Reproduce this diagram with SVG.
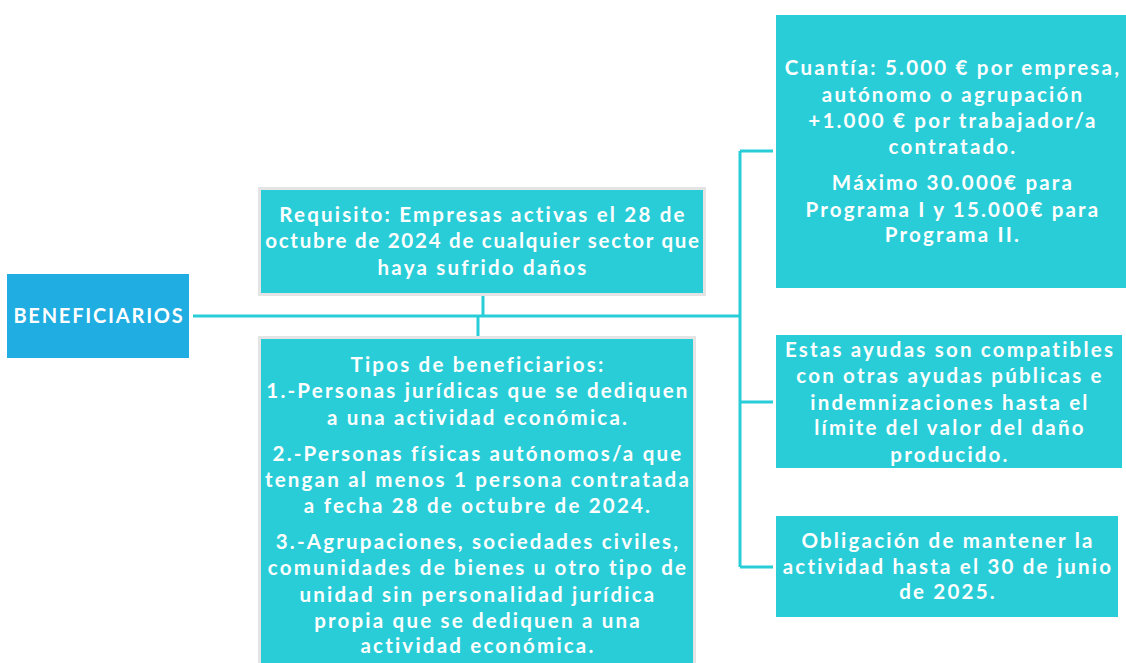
<svg xmlns="http://www.w3.org/2000/svg" width="1126" height="663" viewBox="0 0 1126 663">
<style>
.t{font-family:Lato,"Open Sans","Liberation Sans",sans-serif;font-weight:700;font-size:20.5px;letter-spacing:2.2px;fill:#ffffff;text-anchor:middle}
.box{fill:#29CDD7}
.gbox{fill:#29CDD7;stroke:#E4E4E4;stroke-width:3}
.ln{stroke:#29CDD7;stroke-width:3;fill:none}
</style>
<rect width="1126" height="663" fill="#ffffff"/>
<g id="connectors">
<path class="ln" d="M193 316H740M740 151V567M740 151H773M740 402H773M740 567H773M483 296V316M478 316V336"/>
</g>
<g id="root">
<rect x="7" y="274" width="182" height="84" fill="#1FADE2"/>
<text class="t" x="99" y="323" style="font-size:20px;letter-spacing:1.8px">BENEFICIARIOS</text>
</g>
<g id="requisito">
<rect class="gbox" x="259.5" y="188.5" width="445" height="106"/>
<text class="t" x="483" y="222">Requisito: Empresas activas el 28 de</text>
<text class="t" x="483" y="248" style="letter-spacing:1.75px">octubre de 2024 de cualquier sector que</text>
<text class="t" x="483" y="275">haya sufrido daños</text>
</g>
<g id="tipos">
<rect class="gbox" x="259.5" y="337.5" width="435" height="340"/>
<text class="t" x="478" y="372">Tipos de beneficiarios:</text>
<text class="t" x="478" y="398">1.-Personas jurídicas que se dediquen</text>
<text class="t" x="478" y="425">a una actividad económica.</text>
<text class="t" x="478" y="461">2.-Personas físicas autónomos/a que</text>
<text class="t" x="478" y="487">tengan al menos 1 persona contratada</text>
<text class="t" x="478" y="513">a fecha 28 de octubre de 2024.</text>
<text class="t" x="478" y="549">3.-Agrupaciones, sociedades civiles,</text>
<text class="t" x="478" y="575">comunidades de bienes u otro tipo de</text>
<text class="t" x="478" y="602">unidad sin personalidad jurídica</text>
<text class="t" x="478" y="628">propia que se dediquen a una</text>
<text class="t" x="478" y="653">actividad económica.</text>
</g>
<g id="cuantia">
<rect class="box" x="776" y="15" width="350" height="273"/>
<text class="t" x="953" y="75">Cuantía: 5.000 € por empresa,</text>
<text class="t" x="953" y="102">autónomo o agrupación</text>
<text class="t" x="953" y="128">+1.000 € por trabajador/a</text>
<text class="t" x="953" y="154">contratado.</text>
<text class="t" x="953" y="190">Máximo 30.000€ para</text>
<text class="t" x="953" y="217">Programa I y 15.000€ para</text>
<text class="t" x="953" y="242">Programa II.</text>
</g>
<g id="compatibles">
<rect class="box" x="776" y="335" width="346" height="133"/>
<text class="t" x="950" y="357">Estas ayudas son compatibles</text>
<text class="t" x="950" y="383">con otras ayudas públicas e</text>
<text class="t" x="950" y="410">indemnizaciones hasta el</text>
<text class="t" x="950" y="435">límite del valor del daño</text>
<text class="t" x="950" y="462">producido.</text>
</g>
<g id="obligacion">
<rect class="box" x="776" y="516" width="342" height="101"/>
<text class="t" x="948" y="548">Obligación de mantener la</text>
<text class="t" x="948" y="574">actividad hasta el 30 de junio</text>
<text class="t" x="948" y="599">de 2025.</text>
</g>
</svg>
